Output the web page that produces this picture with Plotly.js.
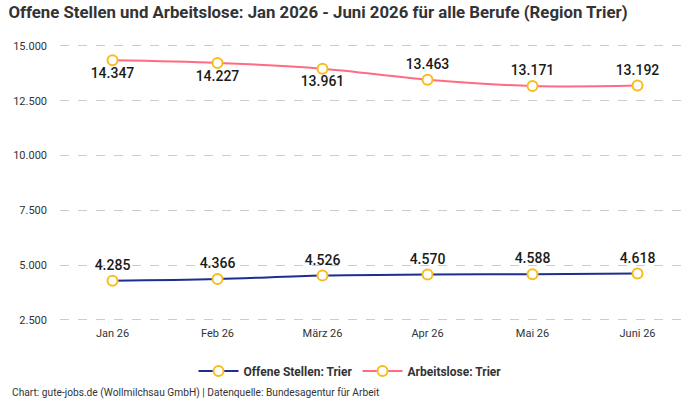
<!DOCTYPE html>
<html><head><meta charset="utf-8">
<script src="https://cdn.plot.ly/plotly-3.0.1.min.js"></script>
<style>body{margin:0;background:#fff}#chart{width:700px;height:400px}</style>
</head><body><div id="chart"></div>
<script>
const categories = ["Jan 26","Feb 26","März 26","Apr 26","Mai 26","Juni 26"];
const offeneStellen = [4285, 4366, 4526, 4570, 4588, 4618];
const arbeitslose = [14347, 14227, 13961, 13463, 13171, 13192];
const arbeitslosePos = ["bottom center","bottom center","bottom center","top center","top center","top center"];
const yTicks = [2500, 5000, 7500, 10000, 12500, 15000];

const fmt = v => v.toLocaleString("de-DE");
const marker = {size: 10, color: "#ffffff", line: {color: "#f7bd1d", width: 2}};
const labelFont = {family: "Roboto, sans-serif", size: 14, color: "#1a1a1a", weight: 500};

const traces = [
  {x: categories, y: offeneStellen, name: "Offene Stellen: Trier", type: "scatter", mode: "lines+markers+text",
   line: {color: "#1c2f8f", width: 2, shape: "spline"}, marker: marker,
   text: offeneStellen.map(fmt), textposition: "top center", textfont: labelFont, cliponaxis: false},
  {x: categories, y: arbeitslose, name: "Arbeitslose: Trier", type: "scatter", mode: "lines+markers+text",
   line: {color: "#ff6b82", width: 2, shape: "spline"}, marker: marker,
   text: arbeitslose.map(fmt), textposition: arbeitslosePos, textfont: labelFont, cliponaxis: false}
];

const layout = {
  width: 700, height: 400,
  margin: {l: 60, r: 10, t: 35, b: 75, autoexpand: false},
  paper_bgcolor: "#ffffff", plot_bgcolor: "#ffffff",
  title: {text: "<b>Offene Stellen und Arbeitslose: Jan 2026 - Juni 2026 für alle Berufe (Region Trier)</b>",
    x: 0.012, xanchor: "left", y: 0.97, yanchor: "middle",
    font: {family: "Liberation Sans Narrow, Roboto, sans-serif", size: 16.8, color: "#333333"}},
  xaxis: {type: "category", range: [-0.5, 5.5], showgrid: false, zeroline: false, showline: false,
    ticks: "", tickfont: {family: "Roboto, sans-serif", size: 11, color: "#333333"}},
  yaxis: {range: [2270, 15500], tickvals: yTicks, ticktext: yTicks.map(fmt),
    showgrid: true, gridcolor: "#cccccc", griddash: "dash", gridwidth: 1, zeroline: false,
    ticks: "", ticklabelstandoff: 12,
    tickfont: {family: "Roboto, sans-serif", size: 11, color: "#333333"}},
  showlegend: true,
  legend: {orientation: "h", xref: "container", x: 0.5, xanchor: "center", yref: "container", y: 0.0725, yanchor: "middle",
    font: {family: "Roboto, sans-serif", size: 12, color: "#333333", weight: "bold"}, itemwidth: 40},
  annotations: [{text: "Chart: gute-jobs.de (Wollmilchsau GmbH) | Datenquelle: Bundesagentur für Arbeit",
    xref: "paper", yref: "paper", x: -0.0794, xanchor: "left", y: -0.2345, yanchor: "middle", showarrow: false,
    font: {family: "Roboto, sans-serif", size: 10.2, color: "#333333"}}]
};
Plotly.newPlot("chart", traces, layout, {displayModeBar: false});
</script></body></html>
